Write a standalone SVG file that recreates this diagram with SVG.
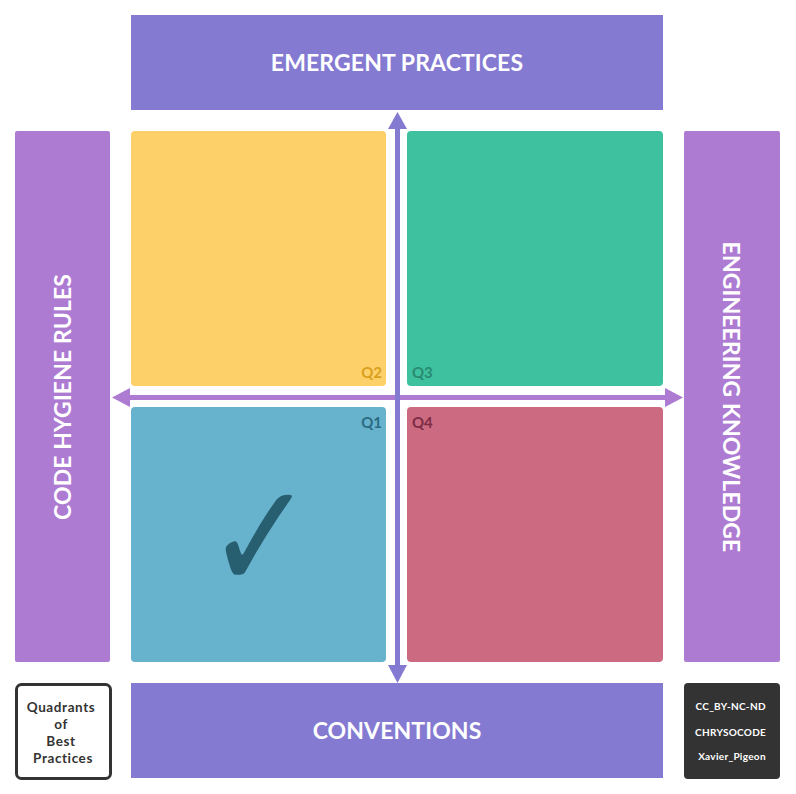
<svg xmlns="http://www.w3.org/2000/svg" width="796" height="794" viewBox="0 0 796 794">
  <style>
    .bar-h { fill: #847ad2; }
    .bar-v { fill: #ae7bd3; }
    .title { font-family: "Lato", "Liberation Sans", sans-serif; font-weight: bold; font-size: 23px; fill: #ffffff; text-anchor: middle; letter-spacing: 0.1px; }
    .qlabel { font-family: "Lato", "Liberation Sans", sans-serif; font-weight: bold; font-size: 15px; }
    .note { font-family: "Lato", "Liberation Sans", sans-serif; font-weight: bold; text-anchor: middle; }
    .axis-v { stroke: #847ad2; stroke-width: 5; fill: none; }
    .axis-h { stroke: #ae7bd3; stroke-width: 5; fill: none; }
  </style>
  <rect width="796" height="794" fill="#ffffff"/>

  <!-- outer category bars -->
  <g id="emergent-practices">
    <rect class="bar-h" x="131" y="15" width="532" height="95"/>
    <text class="title" x="397" y="71">EMERGENT PRACTICES</text>
  </g>
  <g id="conventions">
    <rect class="bar-h" x="131" y="683" width="532" height="95"/>
    <text class="title" x="397" y="739">CONVENTIONS</text>
  </g>
  <g id="code-hygiene-rules">
    <rect class="bar-v" x="15" y="131" width="95" height="531" rx="2"/>
    <text class="title" transform="translate(71,397) rotate(-90)">CODE HYGIENE RULES</text>
  </g>
  <g id="engineering-knowledge">
    <rect class="bar-v" x="684" y="131" width="96" height="531" rx="2"/>
    <text class="title" transform="translate(723,397) rotate(90)">ENGINEERING KNOWLEDGE</text>
  </g>

  <!-- quadrants -->
  <g id="q2">
    <rect x="131" y="131" width="255" height="255" rx="4" fill="#fed06a"/>
    <text class="qlabel" x="382" y="378" text-anchor="end" fill="#d9a11c">Q2</text>
  </g>
  <g id="q3">
    <rect x="407" y="131" width="256" height="255" rx="4" fill="#3ec19e"/>
    <text class="qlabel" x="412" y="378" fill="#2a8b71">Q3</text>
  </g>
  <g id="q1">
    <rect x="131" y="407" width="255" height="255" rx="4" fill="#67b2cc"/>
    <text class="qlabel" x="382" y="428" text-anchor="end" fill="#2b6b82">Q1</text>
    <text transform="translate(260,589) scale(1.28,1.5)" font-family="DejaVu Sans, sans-serif" font-size="100" fill="#275e70" text-anchor="middle">✓</text>
  </g>
  <g id="q4">
    <rect x="407" y="407" width="256" height="255" rx="4" fill="#cc6a82"/>
    <text class="qlabel" x="412" y="428" fill="#7e2c45">Q4</text>
  </g>

  <!-- axes -->
  <g id="connectors">
    <line class="axis-h" x1="128" y1="397.5" x2="667" y2="397.5"/>
    <polygon fill="#ae7bd3" points="112,397.5 130,388 130,407"/>
    <polygon fill="#ae7bd3" points="683,397.5 665,388 665,407"/>
    <line class="axis-v" x1="397.5" y1="126" x2="397.5" y2="668"/>
    <polygon fill="#847ad2" points="397.5,112 388,129 407,129"/>
    <polygon fill="#847ad2" points="397.5,683 388,665 407,665"/>
  </g>

  <!-- legend boxes -->
  <g id="legend">
    <rect x="16.5" y="684.5" width="94" height="94" rx="5" fill="#ffffff" stroke="#333333" stroke-width="3"/>
    <text class="note" font-size="13.5" letter-spacing="0.6" fill="#333333">
      <tspan x="63" y="712">Quadrants</tspan>
      <tspan x="63" y="729">of</tspan>
      <tspan x="63" y="746">Best</tspan>
      <tspan x="63" y="763">Practices</tspan>
    </text>
  </g>
  <g id="credits">
    <rect x="684" y="683" width="96" height="96" rx="4" fill="#333333"/>
    <text class="note" font-size="10" letter-spacing="0.3" fill="#ffffff">
      <tspan x="732" y="710">CC_BY-NC-ND</tspan>
      <tspan x="732" y="736">CHRYSOCODE</tspan>
      <tspan x="732" y="760">Xavier_Pigeon</tspan>
    </text>
  </g>
</svg>
